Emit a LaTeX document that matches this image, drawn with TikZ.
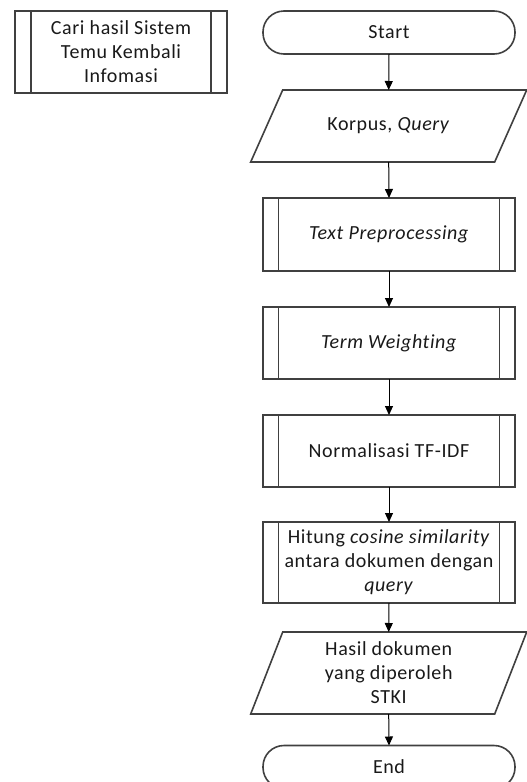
\documentclass[tikz,border=0pt]{standalone}
\usepackage{fontspec}
\setmainfont[LetterSpace=3,Ligatures=NoCommon]{Carlito}
\usetikzlibrary{arrows.meta}
\begin{document}
\begin{tikzpicture}[x=1pt,y=-1pt,
  font=\fontsize{20}{24}\selectfont,
  boxline/.style={draw=black!75,line width=1.6pt},
  txt/.style={inner sep=0pt,outer sep=0pt,align=center,text=black!90},
  terminal/.style={txt,boxline,rounded corners=21pt,minimum width=252pt,minimum height=43pt},
  subproc/.style={txt,boxline,minimum width=252pt},
  iobox/.style={txt,minimum width=244pt},
  flow/.style={draw=black,line width=1pt,-{Triangle[length=9pt,width=8pt]}}
]
\useasboundingbox (0,0) rectangle (527,782);
\begin{scope}
\clip (0,0) rectangle (527,782);

% side label box
\node[subproc,minimum width=212pt,minimum height=82pt] (side) at (121,52)
  {Cari hasil Sistem\\Temu Kembali\\Infomasi};

% main flow
\node[terminal] (start) at (389,32.5) {Start};
\node[iobox,minimum height=72pt] (korpus) at (388.7,126) {Korpus, \textit{Query}};
\node[subproc,minimum height=73pt] (prep) at (389,234.5) {\textit{Text Preprocessing}};
\node[subproc,minimum height=72pt] (weight) at (389,343) {\textit{Term Weighting}};
\node[subproc,minimum height=72pt] (norm) at (389,451) {Normalisasi TF-IDF};
\node[subproc,minimum height=81pt] (cosine) at (389,562.5)
  {Hitung \textit{cosine similarity}\\antara dokumen dengan\\\textit{query}};
\node[iobox,minimum height=82pt] (hasil) at (388.7,673)
  {Hasil dokumen\\yang diperoleh\\STKI};
\node[terminal] (end) at (389,767) {End};

% inner bars of the predefined-process boxes
\foreach \n/\d in {side/16,prep/15.5,weight/15.5,norm/15.5,cosine/15.5}{
  \draw[boxline] ([xshift=\d pt]\n.north west) -- ([xshift=\d pt]\n.south west);
  \draw[boxline] ([xshift=-\d pt]\n.north east) -- ([xshift=-\d pt]\n.south east);
}

% input/output parallelograms
\foreach \n in {korpus,hasil}{
  \draw[boxline] ([xshift=16pt]\n.north west) -- ([xshift=16pt]\n.north east)
    -- ([xshift=-16pt]\n.south east) -- ([xshift=-16pt]\n.south west) -- cycle;
}

% connectors
\draw[flow] (start.south) -- (korpus.north);
\draw[flow] (korpus.south) -- (prep.north);
\draw[flow] (prep.south) -- (weight.north);
\draw[flow] (weight.south) -- (norm.north);
\draw[flow] (norm.south) -- (cosine.north);
\draw[flow] (cosine.south) -- (hasil.north);
\draw[flow] (hasil.south) -- (end.north);
\end{scope}
\end{tikzpicture}
\end{document}
